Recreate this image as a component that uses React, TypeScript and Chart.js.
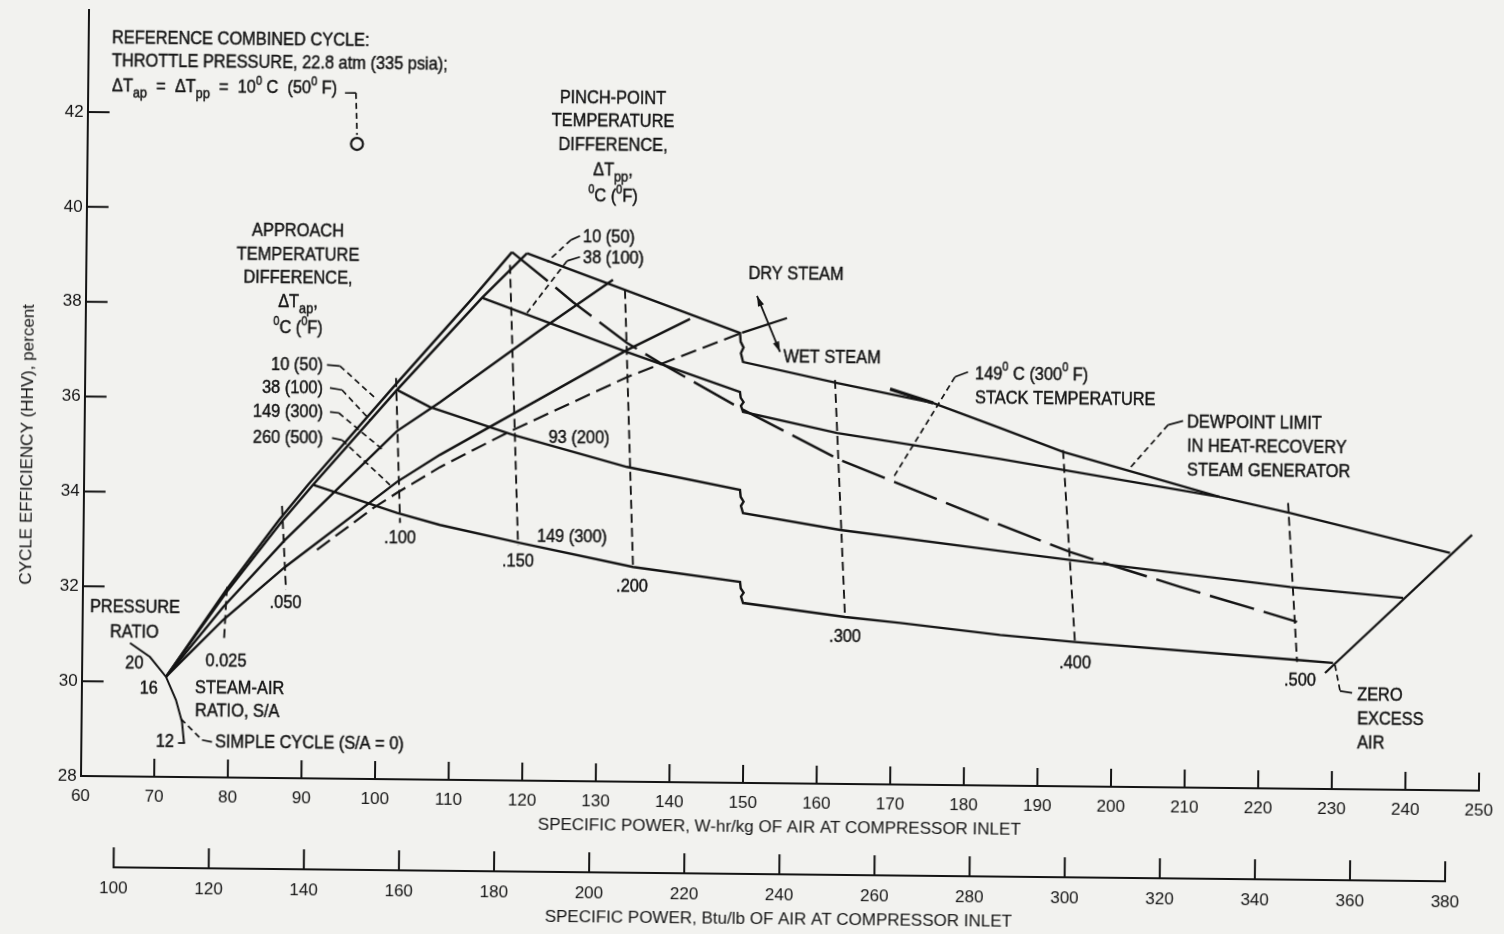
import React, { useEffect, useRef } from 'react';
import { Chart, registerables } from 'chart.js';

Chart.register(...registerables);

const INK = '#141414';
const PAPER = '#f2f2ef';
const FONT = "'Liberation Sans', Arial, Helvetica, sans-serif";
const BTU_PER_WHKG = 1.5477;

// ---------- axis ticks ----------
const powerTicksWhKg = [60, 70, 80, 90, 100, 110, 120, 130, 140, 150, 160, 170, 180, 190, 200, 210, 220, 230, 240, 250];
const powerTicksBtu = [100, 120, 140, 160, 180, 200, 220, 240, 260, 280, 300, 320, 340, 360, 380];
const efficiencyTicks = [28, 30, 32, 34, 36, 38, 40, 42];

// ---------- approach temperature difference curves (rising with S/A) ----------
const tap10X = [71.46, 79.49, 86.59, 90.48, 101.62, 112.63, 117.87];
const tap10Y = [30.11, 31.95, 33.44, 34.19, 36.21, 38.17, 39.14];
const tap38X = [71.46, 79.76, 87.13, 91.16, 102.44, 113.86, 119.91];
const tap38Y = [30.11, 31.95, 33.44, 34.19, 36.21, 38.17, 39.12];
const tap149X = [71.46, 79.11, 87.43, 102.49, 108.3, 121.78, 131.63];
const tap149Y = [30.11, 31.59, 33.02, 35.34, 35.96, 37.5, 38.58];
const tap260X = [71.46, 79.13, 87.47, 102.57, 108.37, 133.63, 142.15];
const tap260Y = [30.11, 31.32, 32.45, 34.27, 34.85, 37.1, 37.77];

// ---------- pinch-point temperature difference curves (descending) ----------
const pp10X = [119.91, 148.96, 149.06, 149.46, 149.11, 149.41, 162.21, 175.29, 184.42, 193.02, 214.41, 223.95, 245.74];
const pp10Y = [39.12, 37.486, 37.3, 37.18, 37.06, 36.875, 36.453, 36.053, 35.54, 35.048, 34.134, 33.812, 33.004];
const pp38X = [113.86, 124.47, 133.63, 149.04, 149.14, 149.54, 149.19, 149.48, 162.28, 184.47, 193.04, 214.41];
const pp38Y = [38.17, 37.572, 37.06, 36.242, 36.12, 36.03, 35.95, 35.821, 35.399, 34.887, 34.669, 34.134];
const pp93X = [102.44, 106.92, 118.26, 133.8, 149.18, 149.28, 149.68, 149.33, 149.62, 162.83, 184.6, 194.12, 224.05, 239.42];
const pp93Y = [36.21, 35.857, 35.285, 34.635, 34.175, 34.03, 33.93, 33.84, 33.691, 33.354, 32.947, 32.773, 32.252, 32.045];
const pp149X = [91.16, 102.61, 108.47, 119.37, 134.76, 149.32, 149.42, 149.82, 149.47, 149.75, 163.63, 171.11, 184.72, 194.92, 225.11, 230.0];
const pp149Y = [34.19, 33.615, 33.371, 33.009, 32.528, 32.236, 32.1, 32.01, 31.93, 31.794, 31.521, 31.407, 31.176, 31.045, 30.715, 30.659];

// ---------- 149 C (300 F) stack temperature line ----------
const stackX = [117.87, 123.07, 126.22, 133.62, 138.13, 149.07, 162.73, 184.56, 194.11, 201.88, 209.1, 225.05];
const stackY = [39.14, 38.5, 38.1, 37.25, 36.84, 35.9, 34.83, 33.5, 32.94, 32.57, 32.23, 31.52];

// ---------- dry / wet steam boundary ----------
const wetBoundX = [91.8, 99.35, 102.59, 108.39, 117.45, 133.67, 149.23];
const wetBoundY = [32.82, 33.71, 34.04, 34.59, 35.33, 36.53, 37.49];
const dryBoundX = [149.23, 155.32];
const dryBoundY = [37.49, 37.81];

// ---------- dewpoint limit segment ----------
const dewX = [169.42, 175.29];
const dewY = [36.338, 36.053];

// ---------- zero excess air limit ----------
const zeroAirX = [228.93, 248.7];
const zeroAirY = [30.447, 33.389];

// ---------- simple cycle, pressure ratio 20 / 16 / 12 ----------
const prX = [66.52, 69.26, 71.46, 72.85, 73.7, 74.0];
const prY = [30.814, 30.524, 30.11, 29.623, 29.16, 28.718];

// ---------- constant steam-air ratio lines ----------
const saLabels = ['0.025', '.050', '.100', '.150', '.200', '.300', '.400', '.500'];
const saTopX = [79.62, 86.98, 102.29, 117.61, 133.27, 161.93, 193.01, 223.66];
const saTopY = [32.017, 33.737, 36.461, 38.868, 38.367, 36.516, 35.09, 34.023];
const saBotX = [79.29, 87.64, 103.04, 119.1, 134.76, 163.63, 194.92, 225.11];
const saBotY = [30.899, 31.967, 33.405, 32.967, 32.507, 31.5, 31.0, 30.672];

// ---------- reference combined cycle ----------
const refX = [96.65];
const refY = [41.386];

// ---------- annotation placement (data units) ----------
const saLabelPos = [[79.59, 30.435], [87.6, 31.693], [103.06, 33.089], [119.12, 32.609], [134.65, 32.106], [163.66, 31.099], [194.95, 30.602], [225.54, 30.272]];

type Note = { t: string; x: number; y: number; a: 'left' | 'center' | 'right' };
const notes: Note[] = [
  { t: 'REFERENCE COMBINED CYCLE:', x: 63.21, y: 43.566, a: 'left' },
  { t: 'THROTTLE PRESSURE, 22.8 atm (335 psia);', x: 63.24, y: 43.081, a: 'left' },
  { t: 'ΔT_{ap}  =  ΔT_{pp}  =  10^{0} C  (50^{0} F)', x: 63.28, y: 42.554, a: 'left' },
  { t: 'APPROACH', x: 88.76, y: 39.538, a: 'center' },
  { t: 'TEMPERATURE', x: 88.8, y: 39.032, a: 'center' },
  { t: 'DIFFERENCE,', x: 88.83, y: 38.547, a: 'center' },
  { t: 'ΔT_{ap},', x: 88.86, y: 38.041, a: 'center' },
  { t: '^{0}C (^{0}F)', x: 88.9, y: 37.493, a: 'center' },
  { t: '10 (50)', x: 92.35, y: 36.698, a: 'right' },
  { t: '38 (100)', x: 92.38, y: 36.213, a: 'right' },
  { t: '149 (300)', x: 92.42, y: 35.707, a: 'right' },
  { t: '260 (500)', x: 92.45, y: 35.158, a: 'right' },
  { t: 'PINCH-POINT', x: 131.37, y: 42.391, a: 'center' },
  { t: 'TEMPERATURE', x: 131.4, y: 41.906, a: 'center' },
  { t: 'DIFFERENCE,', x: 131.44, y: 41.4, a: 'center' },
  { t: 'ΔT_{pp},', x: 131.47, y: 40.873, a: 'center' },
  { t: '^{0}C (^{0}F)', x: 131.51, y: 40.325, a: 'center' },
  { t: '10 (50)', x: 127.49, y: 39.475, a: 'left' },
  { t: '38 (100)', x: 127.52, y: 39.033, a: 'left' },
  { t: 'DRY STEAM', x: 156.49, y: 38.721, a: 'center' },
  { t: 'WET STEAM', x: 161.5, y: 36.979, a: 'center' },
  { t: '149^{0} C (300^{0} F)', x: 180.95, y: 36.673, a: 'left' },
  { t: 'STACK TEMPERATURE', x: 180.98, y: 36.167, a: 'left' },
  { t: 'DEWPOINT LIMIT', x: 209.82, y: 35.687, a: 'left' },
  { t: 'IN HEAT-RECOVERY', x: 209.86, y: 35.181, a: 'left' },
  { t: 'STEAM GENERATOR', x: 209.89, y: 34.675, a: 'left' },
  { t: '93 (200)', x: 127.24, y: 35.236, a: 'center' },
  { t: '149 (300)', x: 126.42, y: 33.148, a: 'center' },
  { t: 'PRESSURE', x: 67.15, y: 31.554, a: 'center' },
  { t: 'RATIO', x: 67.1, y: 31.03, a: 'center' },
  { t: '20', x: 67.15, y: 30.38, a: 'center' },
  { t: '16', x: 69.14, y: 29.85, a: 'center' },
  { t: '12', x: 71.4, y: 28.735, a: 'center' },
  { t: 'STEAM-AIR', x: 75.42, y: 29.88, a: 'left' },
  { t: 'RATIO, S/A', x: 75.45, y: 29.39, a: 'left' },
  { t: 'SIMPLE CYCLE (S/A = 0)', x: 78.21, y: 28.746, a: 'left' },
  { t: 'ZERO', x: 233.31, y: 29.99, a: 'left' },
  { t: 'EXCESS', x: 233.34, y: 29.484, a: 'left' },
  { t: 'AIR', x: 233.38, y: 28.978, a: 'left' },
  ...saLabels.map((t, i) => ({ t, x: saLabelPos[i][0], y: saLabelPos[i][1], a: 'center' as const })),
];

type Leader = { solid: number[][]; dashed: number[][] };
const leaders: Leader[] = [
  { solid: [[94.95, 42.458], [96.44, 42.461]], dashed: [[96.44, 42.461], [96.64, 41.575]] },
  { solid: [[92.89, 36.72], [94.66, 36.701]], dashed: [[94.66, 36.701], [99.74, 35.998]] },
  { solid: [[93.33, 36.235], [94.97, 36.196]], dashed: [[94.97, 36.196], [98.81, 35.569]] },
  { solid: [[93.37, 35.729], [94.56, 35.711]], dashed: [[94.56, 35.711], [100.62, 34.94]] },
  { solid: [[93.68, 35.181], [95.04, 35.141]], dashed: [[95.04, 35.141], [101.62, 34.203]] },
  { solid: [[127.08, 39.495], [125.86, 39.409]], dashed: [[125.86, 39.409], [122.64, 38.94]] },
  { solid: [[127.11, 39.053], [125.35, 38.965]], dashed: [[125.35, 38.965], [119.99, 37.86]] },
  { solid: [[179.99, 36.714], [178.23, 36.606]], dashed: [[178.23, 36.606], [169.96, 34.462]] },
  { solid: [[209.28, 35.729], [207.24, 35.641]], dashed: [[207.24, 35.641], [202.14, 34.726]] },
  { solid: [[76.44, 28.785], [77.8, 28.745]], dashed: [[73.56, 29.224], [76.44, 28.785]] },
  { solid: [[230.99, 30.07], [232.63, 30.031]], dashed: [[230.27, 30.618], [230.99, 30.07]] },
  { solid: [[73.19, 28.717], [74.14, 28.717]], dashed: [] },
];
const steamArrow = [[151.22, 38.27], [154.42, 37.094]];

// ---------- text helpers ----------
const SIZE = 18;
const HS = 0.91;
type Part = { t: string; m: 'n' | 'sub' | 'sup' };
function parseRich(s: string): Part[] {
  const out: Part[] = [];
  const re = /_\{([^}]*)\}|\^\{([^}]*)\}|([^_^]+)/g;
  let m: RegExpExecArray | null;
  while ((m = re.exec(s))) {
    if (m[1] !== undefined) out.push({ t: m[1], m: 'sub' });
    else if (m[2] !== undefined) out.push({ t: m[2], m: 'sup' });
    else out.push({ t: m[3], m: 'n' });
  }
  return out;
}
const fontOf = (m: string) =>
  `${m === 'n' ? SIZE : m === 'sub' ? Math.round(SIZE * 0.78) : Math.round(SIZE * 0.68)}px ${FONT}`;

function drawRich(ctx: CanvasRenderingContext2D, s: string, x: number, y: number, align: string) {
  const parts = parseRich(s);
  let w = 0;
  for (const p of parts) {
    ctx.font = fontOf(p.m);
    w += ctx.measureText(p.t).width;
  }
  const total = w * HS;
  const start = align === 'left' ? x : align === 'right' ? x - total : x - total / 2;
  ctx.save();
  ctx.translate(start, y);
  ctx.scale(HS, 1);
  ctx.textAlign = 'left';
  ctx.textBaseline = 'middle';
  ctx.lineWidth = 0.45;
  ctx.setLineDash([]);
  let cx = 0;
  for (const p of parts) {
    ctx.font = fontOf(p.m);
    const dy = p.m === 'sub' ? SIZE * 0.4 : p.m === 'sup' ? -SIZE * 0.36 : 0;
    ctx.fillText(p.t, cx, dy);
    ctx.strokeText(p.t, cx, dy);
    cx += ctx.measureText(p.t).width;
  }
  ctx.restore();
}

const overlay = {
  id: 'overlay',
  afterDraw(chart: any) {
    const { ctx, chartArea: ca } = chart;
    const sx = chart.scales.x;
    const sy = chart.scales.y;
    const s2 = chart.scales.x2;
    const X = (v: number) => sx.getPixelForValue(v);
    const Y = (v: number) => sy.getPixelForValue(v);
    ctx.save();
    ctx.strokeStyle = INK;
    ctx.fillStyle = INK;
    ctx.lineWidth = 2;
    ctx.lineCap = 'butt';
    ctx.setLineDash([]);
    // inward tick marks
    ctx.beginPath();
    for (const t of sx.ticks) {
      if (t.value <= 60) continue;
      const p = X(t.value);
      ctx.moveTo(p, ca.bottom);
      ctx.lineTo(p, ca.bottom - 18);
    }
    for (const t of sy.ticks) {
      if (t.value <= 28) continue;
      const p = Y(t.value);
      ctx.moveTo(ca.left, p);
      ctx.lineTo(ca.left + 22, p);
    }
    // second (Btu/lb) axis
    const bt = s2.ticks;
    const top = s2.top;
    ctx.moveTo(s2.getPixelForValue(bt[0].value), top);
    ctx.lineTo(s2.getPixelForValue(bt[bt.length - 1].value), top);
    for (const t of bt) {
      const p = s2.getPixelForValue(t.value);
      ctx.moveTo(p, top + 1);
      ctx.lineTo(p, top - 20);
    }
    ctx.stroke();

    // leaders
    ctx.lineWidth = 1.7;
    const poly = (pts: number[][], dash: number[]) => {
      if (!pts.length) return;
      ctx.setLineDash(dash);
      ctx.beginPath();
      pts.forEach(([a, b], i) => (i ? ctx.lineTo(X(a), Y(b)) : ctx.moveTo(X(a), Y(b))));
      ctx.stroke();
    };
    for (const l of leaders) {
      poly(l.solid, []);
      poly(l.dashed, [6, 4]);
    }
    ctx.setLineDash([]);

    // dry / wet steam arrow
    const [p1, p2] = steamArrow.map(([a, b]) => [X(a), Y(b)]);
    ctx.lineWidth = 1.8;
    ctx.beginPath();
    ctx.moveTo(p1[0], p1[1]);
    ctx.lineTo(p2[0], p2[1]);
    ctx.stroke();
    const head = (tip: number[], from: number[]) => {
      const ang = Math.atan2(tip[1] - from[1], tip[0] - from[0]);
      const L = 11;
      ctx.beginPath();
      ctx.moveTo(tip[0], tip[1]);
      ctx.lineTo(tip[0] - L * Math.cos(ang - 0.3), tip[1] - L * Math.sin(ang - 0.3));
      ctx.lineTo(tip[0] - L * Math.cos(ang + 0.3), tip[1] - L * Math.sin(ang + 0.3));
      ctx.closePath();
      ctx.fill();
    };
    head(p1, p2);
    head(p2, p1);

    // texts
    for (const n of notes) drawRich(ctx, n.t, X(n.x), Y(n.y), n.a);
    ctx.restore();
  },
};

const xy = (xs: number[], ys: number[]) => xs.map((x, i) => ({ x, y: ys[i] }));
const curve = (label: string, xs: number[], ys: number[], width = 2.4, dash: number[] = []) => ({
  label,
  data: xy(xs, ys),
  showLine: true,
  borderColor: INK,
  backgroundColor: INK,
  borderWidth: width,
  borderDash: dash,
  pointRadius: 0,
  pointHoverRadius: 0,
  tension: 0,
  fill: false,
  xAxisID: 'x',
  yAxisID: 'y',
});

export default function App() {
  const ref = useRef<HTMLCanvasElement>(null);
  useEffect(() => {
    const canvas = ref.current;
    if (!canvas) return;
    const datasets: any[] = [
      curve('ΔTap 10 C (50 F)', tap10X, tap10Y),
      curve('ΔTap 38 C (100 F)', tap38X, tap38Y),
      curve('ΔTap 149 C (300 F)', tap149X, tap149Y),
      curve('ΔTap 260 C (500 F)', tap260X, tap260Y),
      curve('ΔTpp 10 C (50 F)', pp10X, pp10Y),
      curve('ΔTpp 38 C (100 F)', pp38X, pp38Y),
      curve('ΔTpp 93 C (200 F)', pp93X, pp93Y),
      curve('ΔTpp 149 C (300 F)', pp149X, pp149Y),
      curve('149 C (300 F) stack temperature', stackX, stackY, 2.4, [46, 10]),
      curve('Wet steam boundary', wetBoundX, wetBoundY, 2.2, [16, 7]),
      curve('Dry steam boundary', dryBoundX, dryBoundY, 2.2),
      curve('Dewpoint limit', dewX, dewY, 3.4),
      curve('Zero excess air', zeroAirX, zeroAirY, 2.2),
      curve('Simple cycle (S/A = 0)', prX, prY, 2),
      ...saLabels.map((l, i) => curve('S/A ' + l, [saTopX[i], saBotX[i]], [saTopY[i], saBotY[i]], 1.9, [9, 5])),
      {
        label: 'Reference combined cycle',
        data: xy(refX, refY),
        showLine: false,
        pointRadius: 6,
        pointBorderWidth: 2.2,
        pointBorderColor: INK,
        pointBackgroundColor: 'rgba(0,0,0,0)',
        xAxisID: 'x',
        yAxisID: 'y',
      },
    ];
    const tickFont = { family: FONT, size: 17 };
    const chart = new Chart(canvas, {
      type: 'scatter',
      data: { datasets },
      options: {
        animation: false,
        responsive: false,
        devicePixelRatio: 1,
        events: [],
        layout: { padding: { left: 0, right: 25, top: 10, bottom: 0 } },
        plugins: { legend: { display: false }, tooltip: { enabled: false } },
        scales: {
          x: {
            type: 'linear',
            position: 'bottom',
            weight: 0,
            min: 60,
            max: 250,
            afterBuildTicks: (s: any) => {
              s.ticks = powerTicksWhKg.map((v) => ({ value: v }));
            },
            afterFit: (s: any) => {
              s.height = 91;
              s.paddingLeft = 0;
              s.paddingRight = 0;
            },
            ticks: { color: INK, font: tickFont, padding: 10, maxRotation: 0, autoSkip: false },
            grid: { display: false, drawTicks: false },
            border: { display: true, color: INK, width: 2 },
            title: {
              display: true,
              text: 'SPECIFIC POWER, W-hr/kg OF AIR AT COMPRESSOR INLET',
              color: INK,
              font: { family: FONT, size: 17 },
              padding: { top: 0, bottom: 36 },
            },
          },
          x2: {
            type: 'linear',
            position: 'bottom',
            weight: 1,
            min: 60 * BTU_PER_WHKG,
            max: 250 * BTU_PER_WHKG,
            afterBuildTicks: (s: any) => {
              s.ticks = powerTicksBtu.map((v) => ({ value: v }));
            },
            afterFit: (s: any) => {
              s.height = 67;
              s.paddingLeft = 0;
              s.paddingRight = 0;
            },
            ticks: { color: INK, font: tickFont, padding: 11, maxRotation: 0, autoSkip: false },
            grid: { display: false, drawTicks: false },
            border: { display: false },
            title: {
              display: true,
              text: 'SPECIFIC POWER, Btu/lb OF AIR AT COMPRESSOR INLET',
              color: INK,
              font: { family: FONT, size: 17 },
              padding: { top: 0, bottom: 11 },
            },
          },
          y: {
            type: 'linear',
            position: 'left',
            min: 28,
            max: 44.15,
            afterBuildTicks: (s: any) => {
              s.ticks = efficiencyTicks.map((v) => ({ value: v }));
            },
            afterFit: (s: any) => {
              s.width = 80.6;
              s.paddingTop = 0;
              s.paddingBottom = 0;
            },
            ticks: { color: INK, font: tickFont, padding: 4 },
            grid: { display: false, drawTicks: false },
            border: { display: true, color: INK, width: 2 },
            title: {
              display: true,
              text: 'CYCLE EFFICIENCY (HHV), percent' + ' '.repeat(22),
              color: INK,
              font: { family: FONT, size: 17 },
              padding: { top: 14, bottom: 0 },
            },
          },
        },
      } as any,
      plugins: [overlay],
    });
    return () => chart.destroy();
  }, []);

  return (
    <div style={{ position: 'fixed', left: 0, top: 0, width: 1504, height: 934, overflow: 'hidden', background: PAPER }}>
      <div
        style={{
          position: 'absolute',
          left: 0,
          top: 0,
          width: 1504,
          height: 934,
          transform: 'rotate(0.6deg)',
          transformOrigin: '83px 776px',
        }}
      >
        <canvas ref={ref} width={1504} height={934} style={{ display: 'block', width: 1504, height: 934 }} />
      </div>
    </div>
  );
}
